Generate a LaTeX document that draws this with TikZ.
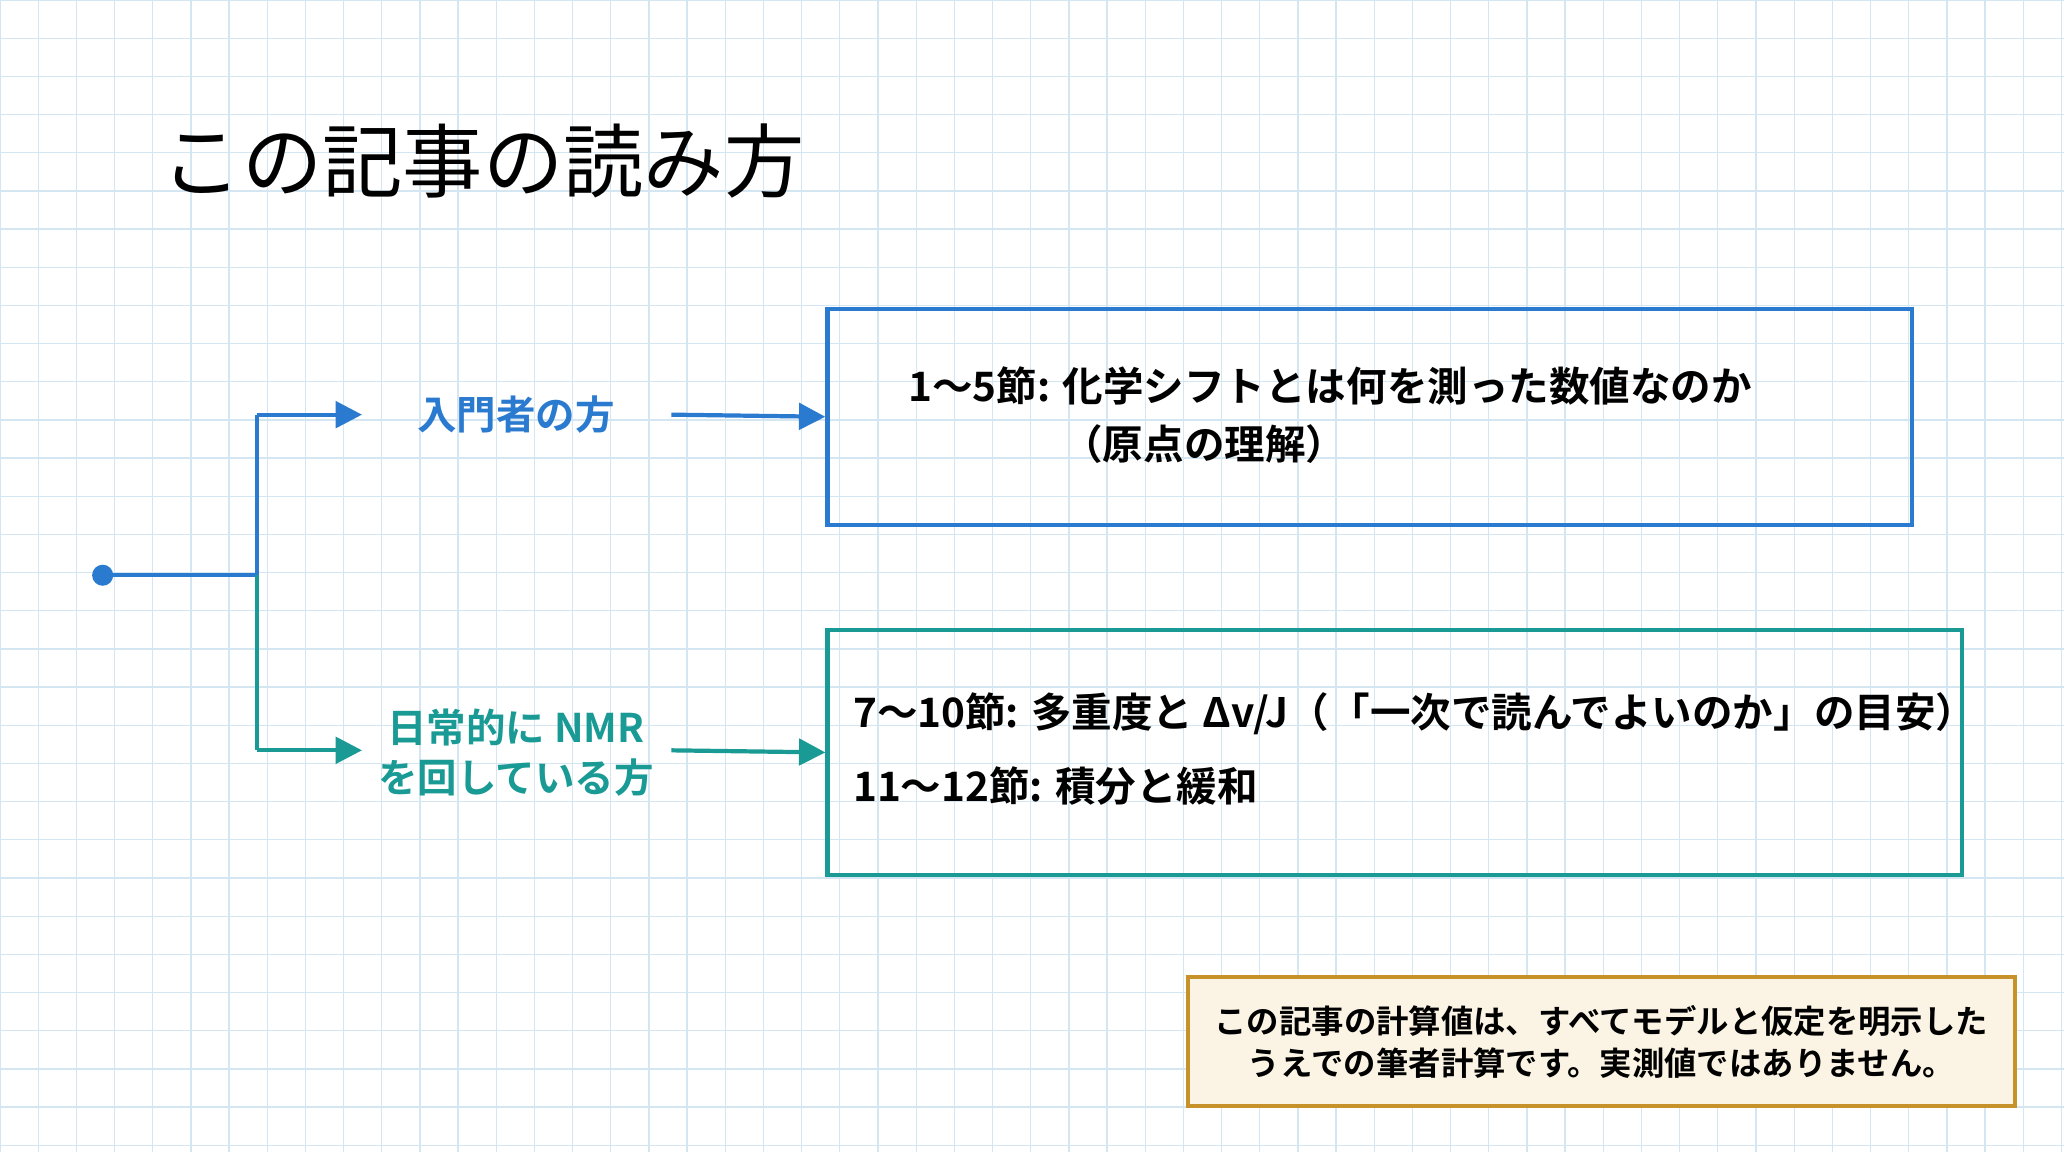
\documentclass[tikz,border=0pt]{standalone}
\usepackage{fontspec}
\setmainfont{Noto Sans CJK JP}
\newfontfamily\jpb{Noto Sans CJK JP}[BoldFont={* Bold}]
\usetikzlibrary{arrows.meta}
\definecolor{cblue}{HTML}{2A7BD0}
\definecolor{cteal}{HTML}{1A9A94}
\definecolor{cgold}{HTML}{C8922A}
\definecolor{ccream}{HTML}{FBF4E4}
\definecolor{cgrid}{HTML}{D3E6F2}
\begin{document}
\begin{tikzpicture}[x=0.5pt,y=-0.5pt,
  arr/.style={line width=1.6pt,-{Triangle[length=10pt,width=10pt]}},
  lbl/.style={font=\jpb\bfseries\fontsize{15}{19}\selectfont,align=center},
  body/.style={font=\jpb\bfseries\fontsize{15.4}{27}\selectfont,anchor=west,align=left}]
\useasboundingbox (0,0) rectangle (1568,875);
\fill[white] (0,0) rectangle (1568,875);
\foreach \i in {0,...,54} \draw[cgrid,line width=0.5pt] (\i*29,0) -- (\i*29,875);
\foreach \j in {0,...,30} \draw[cgrid,line width=0.5pt] (0,\j*29) -- (1568,\j*29);
\node[anchor=west,font=\fontsize{30.5}{36}\selectfont] (title) at (116,122) {この記事の読み方};
\fill[cblue] (78,437) circle (4pt) coordinate (dot);
\coordinate (j) at (195,437);
\coordinate (jt) at (195,315);
\coordinate (jb) at (195,570);
\draw[cblue,line width=1.6pt] (dot) -- (j) -- (jt);
\draw[cteal,line width=1.6pt] (j) -- (jb);
\node[lbl,text=cblue] (l1) at (392,315) {入門者の方};
\node[lbl,text=cteal] (l2) at (392,572) {日常的に NMR\\を回している方};
\draw[arr,cblue] (jt) -- (275,315);
\draw[arr,cteal] (jb) -- (275,570);
\node[draw=cblue,line width=1.6pt,minimum width=412pt,minimum height=82pt,anchor=north west] (b1) at (627,233) {};
\node[draw=cteal,line width=1.6pt,minimum width=431pt,minimum height=93pt,anchor=north west] (b2) at (627,477) {};
\draw[arr,cblue] (510,315) -- (b1.west);
\draw[arr,cteal] (510,570) -- (b2.west);
\node[body] (t1) at (683,293) {1〜5節: 化学シフトとは何を測った数値なのか};
\node[body] (t1b) at (800,337) {（原点の理解）};
\node[body] (t2) at (641,542) {7〜10節: 多重度と Δv/J（「一次で読んでよいのか」の目安）};
\node[body] (t3) at (641,597) {11〜12節: 積分と緩和};
\node[draw=cgold,fill=ccream,line width=1.5pt,minimum width=314pt,minimum height=49pt,anchor=north west] (n) at (901,741) {};
\node[font=\jpb\bfseries\fontsize{12.3}{16}\selectfont,align=center] (nt) at (n.center) {この記事の計算値は、すべてモデルと仮定を明示した\\うえでの筆者計算です。実測値ではありません。};
\end{tikzpicture}
\end{document}
